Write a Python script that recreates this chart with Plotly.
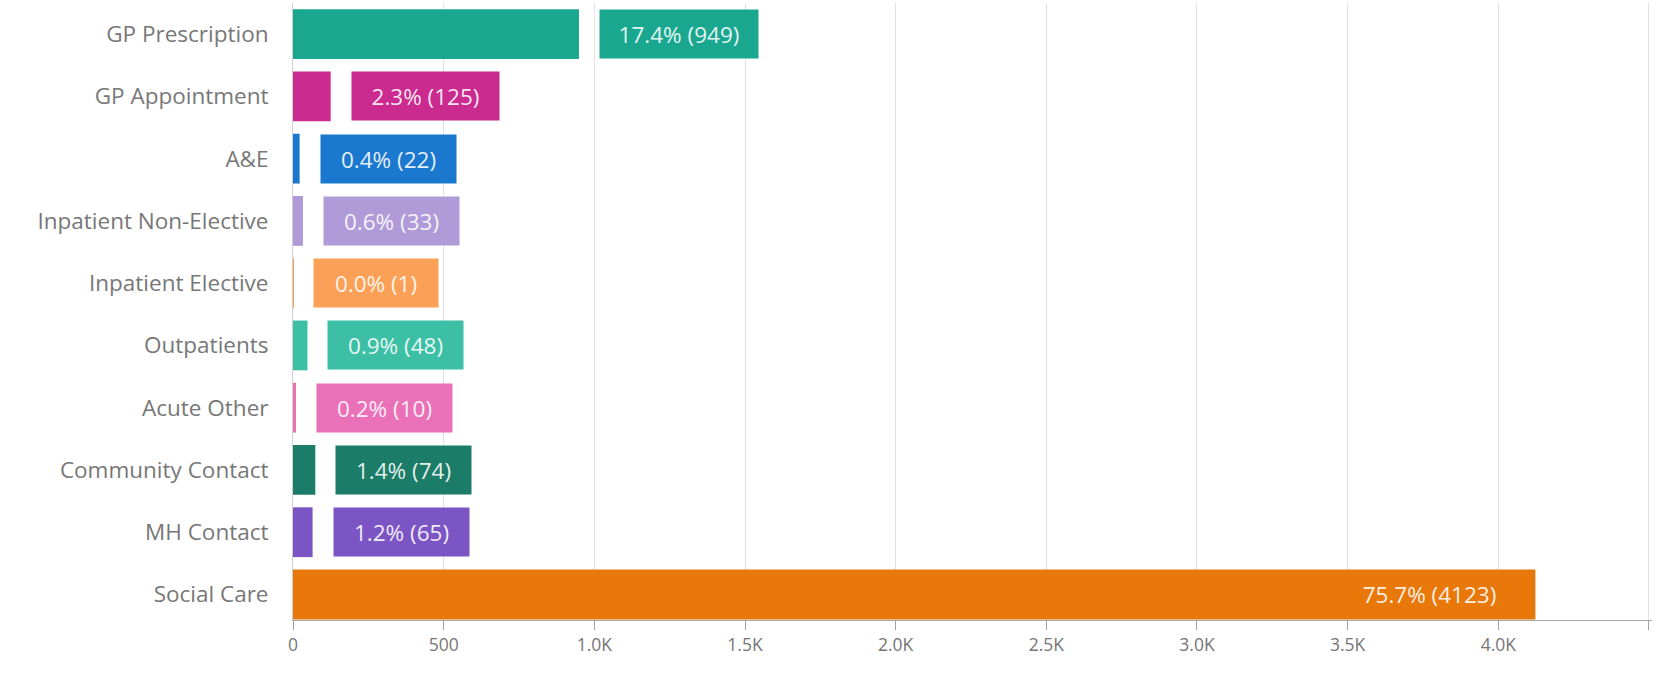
import plotly.graph_objects as go

categories = ["GP Prescription", "GP Appointment", "A&E", "Inpatient Non-Elective",
              "Inpatient Elective", "Outpatients", "Acute Other", "Community Contact",
              "MH Contact", "Social Care"]
values = [949, 125, 22, 33, 1, 48, 10, 74, 65, 4123]
colors = ["#19A88F", "#CB2A8E", "#1A78CE", "#B09BD8", "#FBA157",
          "#3CBFA5", "#EA70B8", "#1B7C67", "#7B55C4", "#E8780A"]
tick_vals = [0, 500, 1000, 1500, 2000, 2500, 3000, 3500, 4000, 4500]
tick_text = ["0", "500", "1.0K", "1.5K", "2.0K", "2.5K", "3.0K", "3.5K", "4.0K", "4.5K"]

total = sum(values)
FONT = "Open Sans"

fig = go.Figure()
fig.add_trace(go.Bar(
    y=categories, x=values, orientation="h",
    marker=dict(color=colors, line=dict(width=0)),
    width=0.8, hoverinfo="skip",
))

annotations = []
for cat, v, c in zip(categories, values, colors):
    txt = f"{v / total * 100:.1f}% ({v})"
    w = int(len(txt) * 11.3 + 34)
    inside = v > 2000
    annotations.append(dict(
        x=v, y=cat, xref="x", yref="y", text=txt, showarrow=False,
        xanchor="right" if inside else "left",
        xshift=-20 if inside else 20,
        bgcolor="rgba(0,0,0,0)" if inside else c,
        width=w, height=48, borderpad=0,
        align="center", valign="middle",
        font=dict(family=FONT, size=22.5, color="rgba(255,255,255,0.9)"),
    ))

fig.update_layout(
    width=1660, height=679,
    margin=dict(l=293, r=8, t=3, b=59),
    paper_bgcolor="white", plot_bgcolor="white",
    showlegend=False, bargap=0.2,
    annotations=annotations,
    font=dict(family=FONT, size=18, color="#707070"),
)
fig.update_xaxes(
    range=[0, 4510], tickvals=tick_vals, ticktext=tick_text,
    showgrid=True, gridcolor="#e2e2e2", gridwidth=1,
    ticks="outside", ticklen=9, tickcolor="#a0a0a0",
    showline=True, linecolor="#a8a8a8", linewidth=1,
    zeroline=False,
    tickfont=dict(family=FONT, size=17.5, color="#767676"),
)
fig.update_yaxes(
    range=[9.41, -0.5], showgrid=False, showline=True, linecolor="#d0d0d0",
    ticks="", ticklabelstandoff=19,
    tickfont=dict(family=FONT, size=22.5, color="#777777"),
)

fig.write_html("out.html")
